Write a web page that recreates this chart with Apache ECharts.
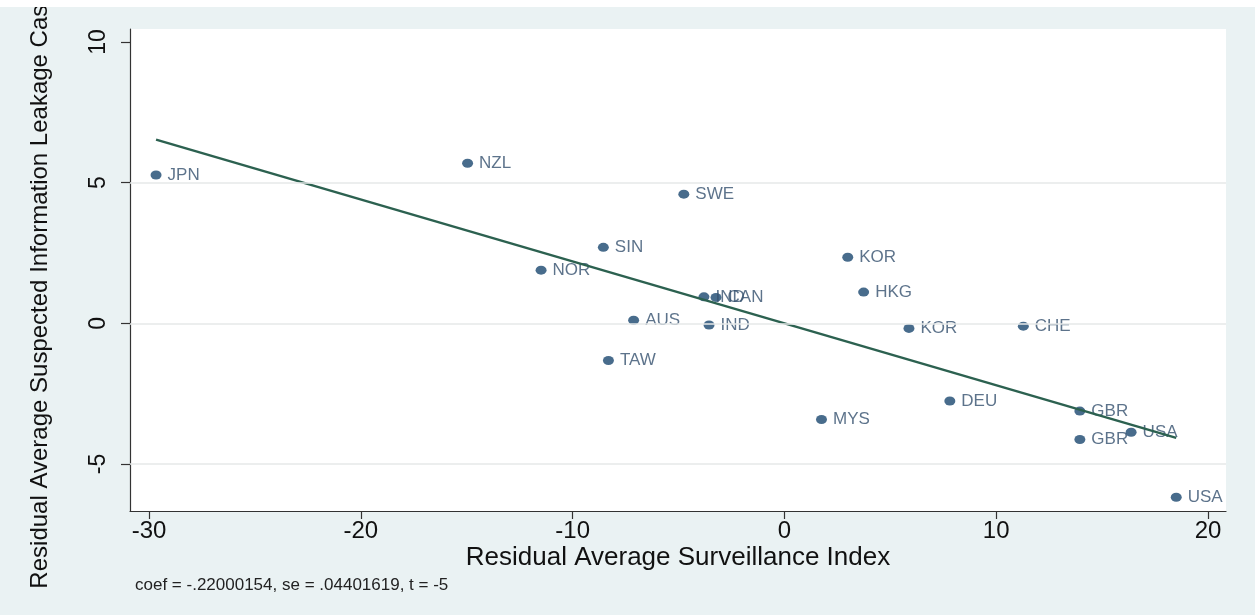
<!DOCTYPE html>
<html>
<head>
<meta charset="utf-8">
<script src="https://cdn.jsdelivr.net/npm/echarts@6/dist/echarts.min.js"></script>
<style>
  html, body { margin: 0; padding: 0; background: #ffffff; }
  #chart { width: 1255px; height: 615px; }
</style>
</head>
<body>
<div id="chart"></div>
<script>
// Country codes for each observation
const countries = ['JPN', 'NZL', 'SWE', 'SIN', 'NOR', 'IND', 'CAN', 'AUS', 'IND', 'TAW',
                   'MYS', 'KOR', 'HKG', 'KOR', 'CHE', 'DEU', 'GBR', 'GBR', 'USA', 'USA'];
// Residual average surveillance index (x)
const surveillanceResid = [-29.67, -14.96, -4.75, -8.55, -11.49, -3.80, -3.23, -7.12, -3.56, -8.31,
                            1.75, 2.99, 3.74, 5.88, 11.28, 7.81, 13.95, 13.95, 16.37, 18.50];
// Residual average suspected information leakage cases (y)
const leakageResid = [5.27, 5.69, 4.59, 2.70, 1.89, 0.94, 0.92, 0.11, -0.06, -1.32,
                      -3.42, 2.35, 1.11, -0.18, -0.10, -2.76, -3.12, -4.13, -3.87, -6.18];
// Tick labels
const xTicks = [-30, -20, -10, 0, 10, 20];
const yTicks = [-5, 0, 5, 10];
const yGridLines = [-5, 0, 5];
// Regression statistics
const coef = -0.22000154;
const se = 0.04401619;
const tStat = -5;

const points = countries.map((c, i) => ({ name: c, value: [surveillanceResid[i], leakageResid[i]] }));
const xLo = Math.min(...surveillanceResid);
const xHi = Math.max(...surveillanceResid);
const fitLine = [[xLo, coef * xLo], [xHi, coef * xHi]];

const FONT = "'Liberation Sans', Arial, sans-serif";

const chart = echarts.init(document.getElementById('chart'), null, { renderer: 'canvas' });
chart.setOption({
  animation: false,
  backgroundColor: '#eaf2f3',
  grid: {
    left: 130, top: 29, right: 29, bottom: 104,
    show: true, backgroundColor: '#ffffff', borderWidth: 0
  },
  xAxis: {
    type: 'value',
    min: -30.9, max: 20.85,
    name: 'Residual Average Surveillance Index',
    nameLocation: 'middle',
    nameGap: 34,
    nameMoveOverlap: false,
    nameTextStyle: { fontFamily: FONT, fontSize: 26, color: '#111' },
    axisLine: { show: true, onZero: false, lineStyle: { color: '#333', width: 1.2 } },
    axisTick: { show: true, length: 8, customValues: xTicks, lineStyle: { color: '#333', width: 1.2 } },
    axisLabel: { customValues: xTicks, margin: 8, fontFamily: FONT, fontSize: 24, color: '#111' },
    splitLine: { show: false }
  },
  yAxis: {
    type: 'value',
    min: -6.67, max: 10.46,
    axisLine: { show: true, onZero: false, lineStyle: { color: '#333', width: 1.2 } },
    axisTick: { show: true, length: 9, customValues: yTicks, lineStyle: { color: '#333', width: 1.2 } },
    axisLabel: { customValues: yTicks, rotate: 90, margin: 20, fontFamily: FONT, fontSize: 23, color: '#111' },
    splitLine: { show: false }
  },
  graphic: [
    { type: 'rect', left: 0, top: 0, z: 100, shape: { width: 1255, height: 7 }, style: { fill: '#ffffff' } },
    {
      type: 'text', x: 40, y: 290, rotation: Math.PI / 2,
      style: {
        text: 'Residual Average Suspected Information Leakage Case',
        font: '24px ' + FONT, fill: '#111', align: 'center', verticalAlign: 'middle'
      }
    },
    {
      type: 'text', x: 135, y: 585,
      style: {
        text: 'coef = ' + String(coef).replace('0.', '.') + ', se = ' + String(se).replace('0.', '.') + ', t = ' + tStat,
        font: '17px ' + FONT, fill: '#222', align: 'left', verticalAlign: 'middle'
      }
    }
  ],
  series: [
    {
      type: 'scatter',
      data: points,
      symbol: 'circle',
      symbolSize: [11, 9],
      itemStyle: { color: '#1a476f' },
      label: {
        show: true, position: 'right', distance: 6,
        formatter: p => p.name,
        fontFamily: FONT, fontSize: 17, color: '#34506e'
      },
      markLine: {
        silent: true, symbol: 'none', label: { show: false },
        lineStyle: { color: '#e6e9e9', width: 1.5, type: 'solid' },
        data: yGridLines.map(v => ({ yAxis: v }))
      },
      z: 2
    },
    {
      type: 'line',
      data: fitLine,
      symbol: 'none',
      lineStyle: { color: '#2c6150', width: 2.5 },
      z: 3
    }
  ]
});
</script>
</body>
</html>
